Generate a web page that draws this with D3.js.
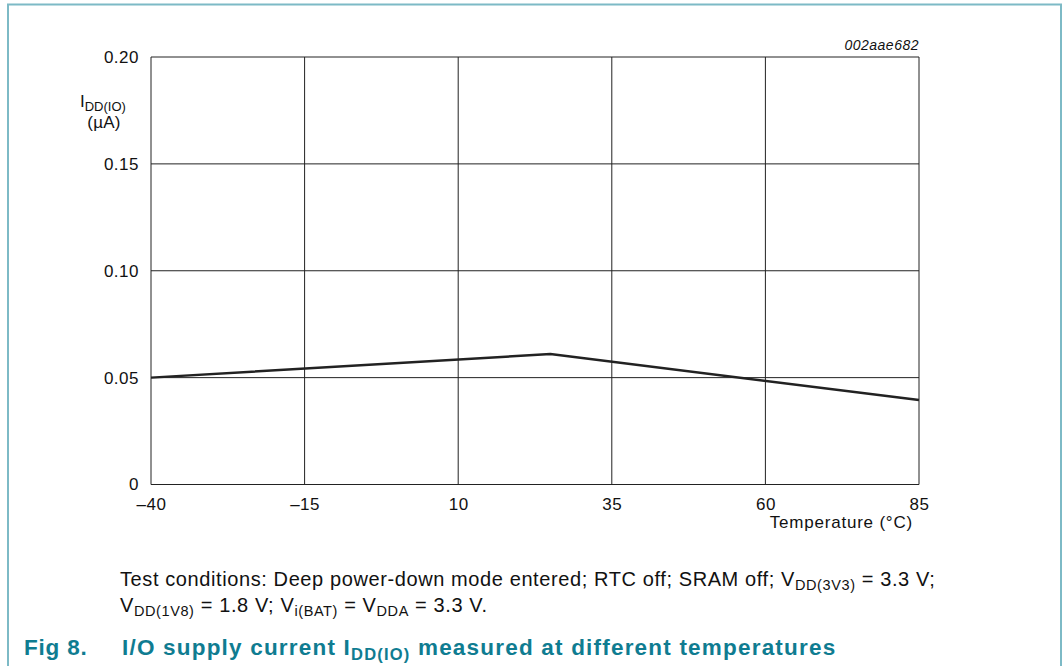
<!DOCTYPE html>
<html>
<head>
<meta charset="utf-8">
<script src="https://cdn.jsdelivr.net/npm/d3@7"></script>
<style>
  body { margin: 0; background: #fff; }
  svg text { font-family: "Liberation Sans", Arial, sans-serif; }
</style>
</head>
<body>
<svg id="chart" width="1063" height="666"></svg>
<script>
// data
var temps = [-40, 25, 85]
var idd = [0.050, 0.061, 0.0395]
var xTicks = [-40, -15, 10, 35, 60, 85]
var yTicks = [0, 0.05, 0.10, 0.15, 0.20]
var yTickLabels = ["0", "0.05", "0.10", "0.15", "0.20"]

var svg = d3.select("#chart")

// frame
svg.append("path")
  .attr("d", "M8,666 L8,4.5 L1061,4.5 L1061,666")
  .attr("fill", "none").attr("stroke", "#7dbac6").attr("stroke-width", 2)

var m = { l: 151, r: 919, t: 57, b: 484.5 }
var x = d3.scaleLinear().domain([-40, 85]).range([m.l, m.r])
var y = d3.scaleLinear().domain([0, 0.2]).range([m.b, m.t])

//////// grid
var g = svg.append("g")
g.selectAll(".vg").data(xTicks).enter().append("line")
  .attr("x1", d => x(d)).attr("x2", d => x(d))
  .attr("y1", m.t).attr("y2", m.b)
  .attr("stroke", "#222").attr("stroke-width", 1)
g.selectAll(".hg").data(yTicks).enter().append("line")
  .attr("x1", m.l).attr("x2", m.r)
  .attr("y1", d => y(d)).attr("y2", d => y(d))
  .attr("stroke", "#222").attr("stroke-width", 1)

//////// axes labels
var xAxis = d3.axisBottom(x).tickValues(xTicks).tickSize(0).tickPadding(13)
  .tickFormat(d => d < 0 ? "\u2013" + Math.abs(d) : d)
svg.append("g").attr("transform", "translate(0," + m.b + ")").call(xAxis)
  .call(a => a.select(".domain").remove())
  .selectAll("text").attr("font-size", 17).attr("letter-spacing", 0.5).attr("fill", "#111")
  .attr("font-family", "Liberation Sans, Arial, sans-serif")

var yAxis = d3.axisLeft(y).tickValues(yTicks).tickSize(0).tickPadding(12)
  .tickFormat((d, i) => yTickLabels[i])
svg.append("g").attr("transform", "translate(" + m.l + ",0)").call(yAxis)
  .call(a => a.select(".domain").remove())
  .selectAll("text").attr("font-size", 17).attr("letter-spacing", 0.5).attr("fill", "#111")
  .attr("font-family", "Liberation Sans, Arial, sans-serif")

// y title
var yt = svg.append("text").attr("x", 80).attr("y", 107).attr("font-size", 17).attr("fill", "#111")
yt.append("tspan").text("I")
yt.append("tspan").attr("font-size", 13).attr("dy", 4).text("DD(IO)")
svg.append("text").attr("x", 104).attr("y", 128).attr("text-anchor", "middle")
  .attr("font-size", 17).attr("letter-spacing", 0.3).attr("fill", "#111").text("(\u00b5A)")

// x title
svg.append("text").attr("x", 913).attr("y", 528).attr("text-anchor", "end")
  .attr("font-size", 17).attr("letter-spacing", 0.8).attr("fill", "#111").text("Temperature (\u00b0C)")

// figure id
svg.append("text").attr("x", 919).attr("y", 50).attr("text-anchor", "end")
  .attr("font-size", 14).attr("letter-spacing", 0.5).attr("font-style", "italic").attr("fill", "#111").text("002aae682")

//////// data line
var line = d3.line().x(d => x(d[0])).y(d => y(d[1]))
svg.append("path").datum(d3.zip(temps, idd))
  .attr("d", line).attr("fill", "none")
  .attr("stroke", "#222").attr("stroke-width", 2.5)

//////// notes
var n1 = svg.append("text").attr("x", 120).attr("y", 586).attr("font-size", 20)
  .attr("letter-spacing", 0.6).attr("fill", "#111")
n1.append("tspan").text("Test conditions: Deep power-down mode entered; RTC off; SRAM off; V")
n1.append("tspan").attr("font-size", 14.5).attr("dy", 4).text("DD(3V3)")
n1.append("tspan").attr("dy", -4).text(" = 3.3 V;")

var n2 = svg.append("text").attr("x", 120).attr("y", 612).attr("font-size", 20)
  .attr("letter-spacing", 0.6).attr("fill", "#111")
n2.append("tspan").text("V")
n2.append("tspan").attr("font-size", 14.5).attr("dy", 4).text("DD(1V8)")
n2.append("tspan").attr("dy", -4).text(" = 1.8 V; V")
n2.append("tspan").attr("font-size", 14.5).attr("dy", 4).text("i(BAT)")
n2.append("tspan").attr("dy", -4).text(" = V")
n2.append("tspan").attr("font-size", 14.5).attr("dy", 4).text("DDA")
n2.append("tspan").attr("dy", -4).text(" = 3.3 V.")

// caption
var teal = "#0f7c91"
svg.append("text").attr("x", 24).attr("y", 655).attr("font-size", 22.5).attr("letter-spacing", 0.8)
  .attr("font-weight", "bold").attr("fill", teal).text("Fig 8.")
var cap = svg.append("text").attr("x", 122).attr("y", 655).attr("font-size", 22.5).attr("letter-spacing", 1.2)
  .attr("font-weight", "bold").attr("fill", teal)
cap.append("tspan").text("I/O supply current I")
cap.append("tspan").attr("font-size", 16.5).attr("dy", 5).text("DD(IO)")
cap.append("tspan").attr("dy", -5).text(" measured at different temperatures")
</script>
</body>
</html>
